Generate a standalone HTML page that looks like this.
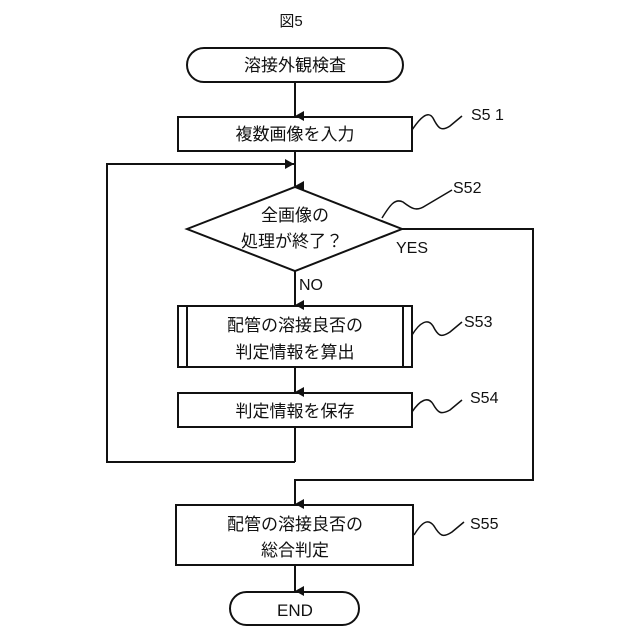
<!DOCTYPE html>
<html><head><meta charset="utf-8"><style>
html,body{margin:0;padding:0;background:#fff;width:640px;height:640px;overflow:hidden}
svg{display:block}
text{font-family:"Liberation Sans","Noto Sans CJK JP",sans-serif;fill:#111}
</style></head><body>
<svg width="640" height="640" viewBox="0 0 640 640" xmlns="http://www.w3.org/2000/svg">
<defs><marker id="a" markerWidth="10" markerHeight="10" refX="5" refY="9" orient="auto" markerUnits="userSpaceOnUse"><path d="M0,0 L10,0 L5,9 z" fill="#111"/></marker>
<marker id="r" markerWidth="10" markerHeight="10" refX="9" refY="5" orient="auto" markerUnits="userSpaceOnUse"><path d="M0,0 L9,5 L0,10 z" fill="#111"/></marker></defs>
<g stroke="#111" stroke-width="2" fill="none">
<text x="291" y="26" font-size="15" text-anchor="middle" stroke="none">図5</text>
<rect x="187" y="48" width="216" height="34" rx="17"/>
<line x1="295" y1="82" x2="295" y2="116" marker-end="url(#a)"/>
<rect x="178" y="117" width="234" height="34"/>
<line x1="295" y1="151" x2="295" y2="186" marker-end="url(#a)"/>
<polyline points="295,462 107,462 107,164 294,164" marker-end="url(#r)"/>
<polygon points="187,229 295,187 402,229 295,271"/>
<polyline points="402,229 533,229 533,480 295,480 295,504" marker-end="url(#a)"/>
<line x1="295" y1="271" x2="295" y2="305" marker-end="url(#a)"/>
<rect x="178" y="306" width="234" height="61"/>
<line x1="187" y1="306" x2="187" y2="367"/><line x1="403" y1="306" x2="403" y2="367"/>
<line x1="295" y1="367" x2="295" y2="392" marker-end="url(#a)"/>
<rect x="178" y="393" width="234" height="34"/>
<line x1="295" y1="427" x2="295" y2="462"/>
<rect x="176" y="505" width="237" height="60"/>
<line x1="295" y1="565" x2="295" y2="591" marker-end="url(#a)"/>
<rect x="230" y="592" width="129" height="33" rx="16.5"/>
<g stroke-width="1.5">
<path d="M412,130 C420,118 428,110 433,118 C438,128 441,132 450,126 L462,116"/>
<path d="M382,218 C390,205 395,198 403,202 C411,208 416,212 425,206 L452,190"/>
<path d="M412,335 C420,322 428,318 433,326 C438,336 441,338 450,332 L462,322"/>
<path d="M412,412 C420,400 428,396 433,404 C438,413 441,415 450,410 L462,400"/>
<path d="M414,535 C422,522 428,518 434,526 C440,536 443,538 452,532 L464,522"/>
</g>
</g>
<g font-size="17" text-anchor="middle">
<text x="295" y="71">溶接外観検査</text>
<text x="295" y="140">複数画像を入力</text>
<text x="295" y="221">全画像の</text>
<text x="292" y="247">処理が終了？</text>
<text x="295" y="331">配管の溶接良否の</text>
<text x="295" y="358">判定情報を算出</text>
<text x="295" y="417">判定情報を保存</text>
<text x="295" y="530">配管の溶接良否の</text>
<text x="295" y="556">総合判定</text>
<text x="295" y="616">END</text>
</g>
<g font-size="16">
<text x="471" y="120">S5 1</text>
<text x="453" y="193">S52</text>
<text x="464" y="327">S53</text>
<text x="470" y="403">S54</text>
<text x="470" y="529">S55</text>
<text x="396" y="253">YES</text>
<text x="299" y="290">NO</text>
</g>
</svg>
</body></html>
